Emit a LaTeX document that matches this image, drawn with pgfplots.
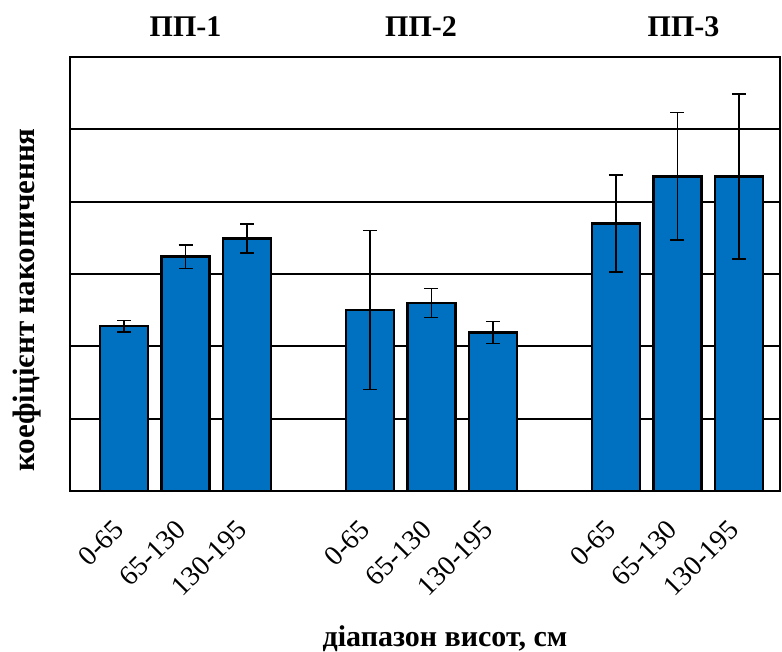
\documentclass[border=0pt]{standalone}
\usepackage{pgfplots}
\pgfplotsset{compat=1.18}
\usepackage{pgfplotstable}
\usepackage{fontspec}
\setmainfont{Liberation Serif}
\definecolor{barblue}{HTML}{0070C0}
\pgfplotstableread{
x y err
0 2.28 0.08
1 3.24 0.16
2 3.49 0.20
4 2.50 1.10
5 2.60 0.20
6 2.19 0.15
8 3.70 0.67
9 4.35 0.88
10 4.35 1.14
}\datatable
\begin{document}
\begin{tikzpicture}
\begin{axis}[
  at={(0,0)}, anchor=south west,
  scale only axis,
  width=355pt, height=217pt,
  xmin=-0.88, xmax=10.67,
  ymin=0, ymax=6,
  axis line style={line width=0.8pt},
  ytick={1,2,3,4,5},
  yticklabels={},
  ymajorgrids,
  grid style={black, line width=1pt},
  major tick length=0pt,
  xtick={0,1,2,4,5,6,8,9,10},
  xticklabels={0-65,65-130,130-195,0-65,65-130,130-195,0-65,65-130,130-195},
  xticklabel style={font=\fontsize{14}{16}\selectfont, xshift=0pt, yshift=-14.5pt, rotate=45, anchor=east},
  clip=false,
]
\addplot[ybar, bar width=24pt, fill=barblue, draw=black, line width=1.2pt,
  error bars/.cd, y dir=both, y explicit,
  error bar style={black, line width=0.7pt},
  error mark options={black, line width=0.7pt, mark size=3.5pt, rotate=90}]
  table[x=x, y=y, y error=err] {\datatable};
\node[font=\bfseries\fontsize{15}{18}\selectfont] at (axis cs:1,6.415) {ПП-1};
\node[font=\bfseries\fontsize{15}{18}\selectfont] at (axis cs:4.83,6.415) {ПП-2};
\node[font=\bfseries\fontsize{15}{18}\selectfont] at (axis cs:9.1,6.415) {ПП-3};
\node[font=\bfseries\fontsize{15.5}{18}\selectfont, xshift=-21.5pt, rotate=90] at (rel axis cs:0,0.44) {коефіцієнт накопичення};
\node[font=\bfseries\fontsize{15}{18}\selectfont, yshift=-74pt] at (axis cs:5.22,0) {діапазон висот, см};
\end{axis}
\pgfresetboundingbox
\path[use as bounding box] (-35pt,-80.5pt) rectangle (356pt,245.5pt);
\end{tikzpicture}
\end{document}
